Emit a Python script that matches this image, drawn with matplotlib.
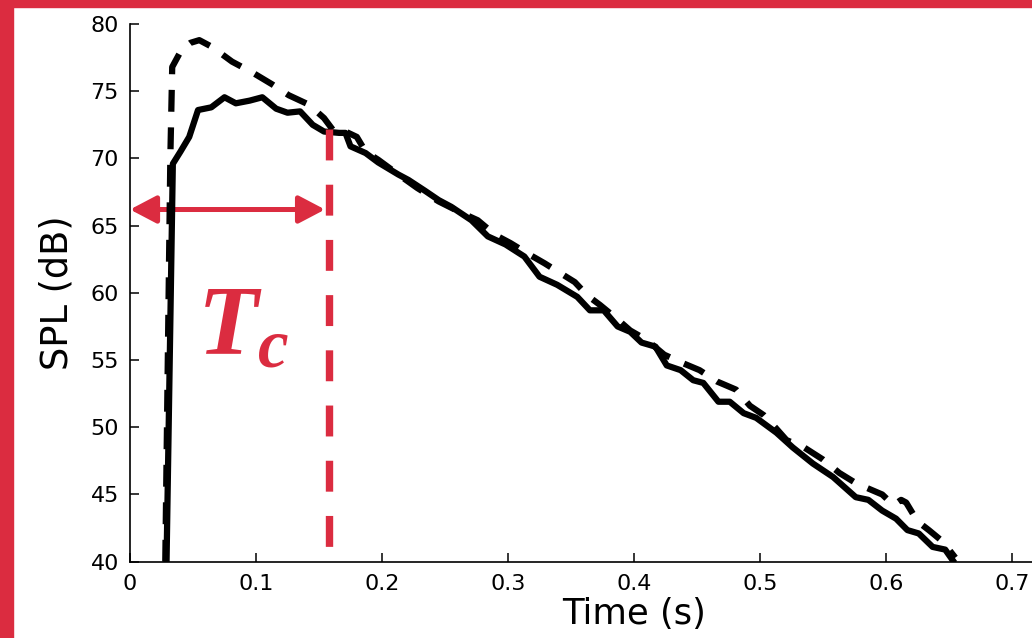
"""
Sound pressure level decay: two SPL curves with the Tc (centre time) marker.
"""

import matplotlib.pyplot as plt
from matplotlib.patches import Rectangle
from matplotlib.ticker import FuncFormatter, MultipleLocator


OUT_PATH = "out.png"
RED = "#DB2C40"

# Solid curve
time_solid = [0.029, 0.034, 0.040, 0.047, 0.054, 0.0645, 0.075, 0.084, 0.095, 0.105,
              0.116, 0.125, 0.135, 0.145, 0.154, 0.166, 0.171, 0.175, 0.187, 0.197,
              0.213, 0.221, 0.234, 0.245, 0.255, 0.271, 0.284, 0.298, 0.313, 0.325,
              0.339, 0.355, 0.365, 0.376, 0.387, 0.397, 0.406, 0.417, 0.426, 0.437,
              0.447, 0.455, 0.467, 0.476, 0.487, 0.497, 0.513, 0.526, 0.542, 0.558,
              0.576, 0.586, 0.597, 0.608, 0.617, 0.626, 0.637, 0.647, 0.653]
spl_solid = [40.0, 69.6, 70.5, 71.6, 73.6, 73.8, 74.55, 74.1, 74.3, 74.55,
             73.7, 73.4, 73.5, 72.5, 72.0, 71.9, 71.9, 70.9, 70.4, 69.7,
             68.8, 68.4, 67.6, 66.9, 66.4, 65.4, 64.2, 63.6, 62.7, 61.2,
             60.6, 59.7, 58.7, 58.7, 57.5, 57.1, 56.3, 56.0, 54.6, 54.25,
             53.5, 53.3, 51.9, 51.9, 51.05, 50.7, 49.6, 48.5, 47.3, 46.3,
             44.8, 44.6, 43.8, 43.2, 42.35, 42.1, 41.1, 40.9, 40.1]

# Dashed curve
time_dashed = [0.028, 0.030, 0.032, 0.0335, 0.041, 0.048, 0.055, 0.065, 0.081, 0.097,
               0.113, 0.126, 0.142, 0.154, 0.162, 0.171, 0.180, 0.187, 0.197, 0.213,
               0.228, 0.245, 0.262, 0.276, 0.290, 0.302, 0.316, 0.329, 0.341, 0.353,
               0.363, 0.373, 0.386, 0.397, 0.410, 0.424, 0.438, 0.452, 0.466, 0.481,
               0.492, 0.503, 0.512, 0.521, 0.535, 0.550, 0.563, 0.576, 0.587, 0.597,
               0.606, 0.612, 0.616, 0.625, 0.634, 0.645, 0.655]
spl_dashed = [40.0, 55.0, 70.0, 76.8, 78.1, 78.6, 78.8, 78.3, 77.2, 76.4,
              75.5, 74.7, 74.0, 73.0, 72.0, 72.0, 71.6, 70.5, 69.9, 68.8,
              67.8, 66.8, 66.0, 65.4, 64.3, 63.7, 62.9, 62.2, 61.5, 60.8,
              59.8, 59.1, 58.1, 57.2, 56.5, 55.4, 54.8, 54.25, 53.4, 52.8,
              51.6, 50.9, 50.0, 49.05, 48.5, 47.6, 46.6, 45.85, 45.4, 45.0,
              44.2, 44.6, 44.4, 43.0, 42.35, 41.5, 40.3]

# Tc annotation
tc_time = 0.158
tc_spl_top = 72.2
arrow_spl = 66.2
arrow_end = 0.1548

plt.rcParams["font.family"] = ["DejaVu Sans"]
plt.rcParams["mathtext.fontset"] = "custom"
plt.rcParams["mathtext.it"] = "Liberation Serif:italic:bold"
plt.rcParams["mathtext.rm"] = "Liberation Serif:bold"

fig = plt.figure(figsize=(10.32, 6.38), dpi=100)
ax = fig.add_axes([130 / 1032, 1 - 561.7 / 638, 0.8 * 1260 / 1032, 537.7 / 638])

# Red frame on the left and top edges
fig.patches.append(Rectangle((0, 0), 13 / 1032, 1, transform=fig.transFigure,
                             color=RED, zorder=10))
fig.patches.append(Rectangle((0, 1 - 7 / 638), 1, 7 / 638, transform=fig.transFigure,
                             color=RED, zorder=10))

ax.annotate("", xy=(0, arrow_spl), xytext=(arrow_end, arrow_spl),
            arrowprops=dict(arrowstyle="<|-|>,head_length=0.8,head_width=0.42",
                            lw=3.6, color=RED, mutation_scale=20,
                            shrinkA=0, shrinkB=0),
            zorder=2, annotation_clip=False)

ax.plot(time_dashed, spl_dashed, color="black", lw=4.5,
        linestyle=(0, (3.5, 2.5)), zorder=3)
ax.plot(time_solid, spl_solid, color="black", lw=4.5, zorder=3)

ax.plot([tc_time, tc_time], [tc_spl_top, 40.6], color=RED, lw=5.3,
        linestyle=(0, (4.2, 3.3)), dash_capstyle="butt", zorder=4)

ax.text(0.053, 55.4, r"$T_c$", color=RED, fontsize=71, ha="left",
        va="baseline", zorder=5)

ax.set_xlim(0, 0.8)
ax.set_ylim(40, 80)
ax.xaxis.set_major_locator(MultipleLocator(0.1))
ax.yaxis.set_major_locator(MultipleLocator(5))
ax.xaxis.set_major_formatter(FuncFormatter(lambda v, _: f"{v:g}"))

ax.spines["top"].set_visible(False)
ax.spines["right"].set_visible(False)
for side in ("left", "bottom"):
    ax.spines[side].set_linewidth(1.2)

ax.tick_params(direction="in", length=6.5, width=1.1, labelsize=16)
ax.tick_params(axis="x", pad=9)
ax.tick_params(axis="y", pad=8)

ax.set_xlabel("Time (s)", fontsize=25.5, labelpad=2)
ax.set_ylabel("SPL (dB)", fontsize=26.5, labelpad=11)

fig.savefig(OUT_PATH, dpi=100)
